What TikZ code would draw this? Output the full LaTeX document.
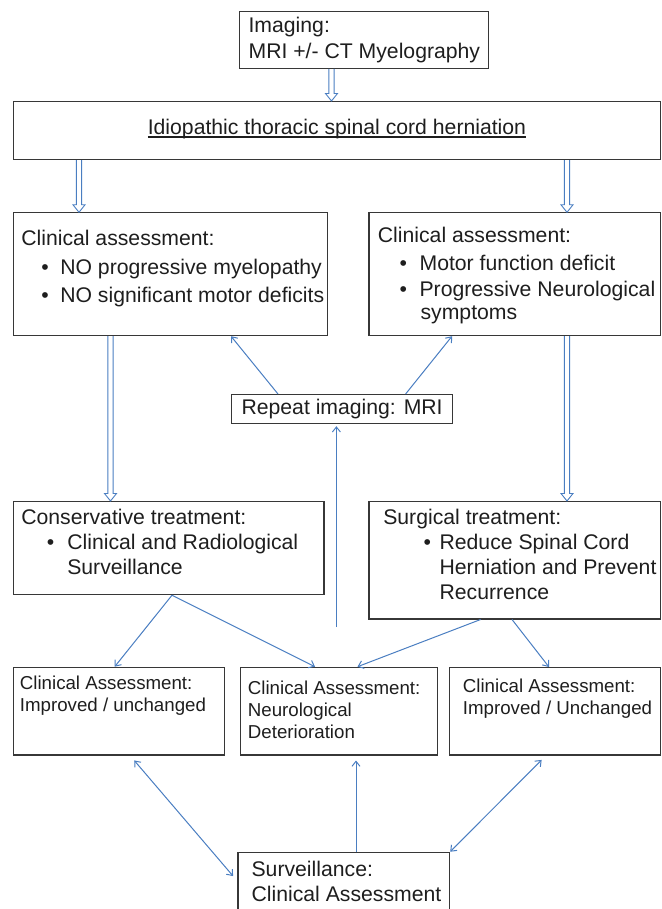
\documentclass[tikz,border=0pt]{standalone}
\usepackage{fontspec}
\setmainfont{Liberation Sans}
\usetikzlibrary{arrows.meta, calc}

\definecolor{arrblue}{RGB}{74,126,193}
\definecolor{boxline}{RGB}{55,55,55}
\definecolor{txt}{RGB}{30,30,30}

\newcommand{\boxtxt}[3]{\parbox[c][#2][t]{#1}{\offinterlineskip#3}}
\newcommand{\row}[3]{\vskip#1\hbox to\hsize{\kern#2\smash{#3}\hss}}
\newcommand{\itemrow}[4]{\row{#1}{#2}{\makebox[#3][l]{\textbullet}#4}}
\newcommand{\undl}[1]{\setbox0\hbox{#1}\rlap{\rule[-3pt]{\wd0}{1.1pt}}\box0}

\tikzset{
	flowbox/.style = {draw = boxline, line width = 1.2pt, anchor = north west, inner sep = 0pt, text = txt, font = \fontsize{21.2}{25}\selectfont},
	smalltxt/.style = {font = \fontsize{18.7}{22}\selectfont},
	thinarr/.style = {draw = arrblue, line width = 1pt, -{Straight Barb[length=5pt, width=8pt]}},
	botharr/.style = {draw = arrblue, line width = 1pt, {Straight Barb[length=5pt, width=8pt]}-{Straight Barb[length=5pt, width=8pt]}},
	dblarr/.style = {draw = arrblue, line width = 0.9pt, to path = {let \p1 = (\tikztostart), \p2 = (\tikztotarget) in
		(\x1-2.6pt,\y1) -- (\x1-2.6pt,\y2+7.5pt) -- (\x1-6pt,\y2+7.5pt) -- (\x1,\y2) -- (\x1+6pt,\y2+7.5pt) -- (\x1+2.6pt,\y2+7.5pt) -- (\x1+2.6pt,\y1)}}
}

\begin{document}
\begin{tikzpicture}[x = 1pt, y = -1pt]
	\useasboundingbox (0,0) rectangle (661,909);

	\node [flowbox] (img) at (239,10.7) {\boxtxt{249pt}{57pt}{\row{21.6pt}{9pt}{Imaging:}\row{26pt}{9pt}{MRI +/- CT Myelography}}};
	\node [flowbox, minimum width = 647.3pt, minimum height = 58pt, text height = 15pt, text depth = 7pt] (hern) at (12.7,101) {\undl{Idiopathic thoracic spinal cord herniation}};

	\node [flowbox] (clinL) at (12.7,212.3) {\boxtxt{314.3pt}{122.7pt}{\row{32.7pt}{8pt}{Clinical assessment:}\itemrow{29.3pt}{28pt}{19pt}{NO progressive myelopathy}\itemrow{28pt}{28pt}{19pt}{NO significant motor deficits}}};
	\node [flowbox] (clinR) at (368.3,212.3) {\boxtxt{291.7pt}{122.7pt}{\row{30pt}{9pt}{Clinical assessment:}\itemrow{28pt}{30.7pt}{20pt}{Motor function deficit}\itemrow{25.4pt}{30.7pt}{20pt}{Progressive Neurological}\row{23.3pt}{51.7pt}{symptoms}}};

	\node [flowbox, minimum width = 221pt, minimum height = 29pt, text height = 15.5pt, text depth = 4.5pt] (rep) at (231,394) {Repeat imaging: MRI};

	\node [flowbox] (cons) at (12.7,501) {\boxtxt{310.6pt}{93pt}{\row{23.3pt}{8pt}{Conservative treatment:}\itemrow{24.7pt}{33.6pt}{20.4pt}{Clinical and Radiological}\row{25.3pt}{54pt}{Surveillance}}};
	\node [flowbox] (surg) at (368.3,501) {\boxtxt{291.7pt}{117.3pt}{\row{23.3pt}{14.4pt}{Surgical treatment:}\itemrow{24.7pt}{54.7pt}{16pt}{Reduce Spinal Cord}\row{25pt}{70.7pt}{Herniation and Prevent}\row{25pt}{70.7pt}{Recurrence}}};

	\node [flowbox, smalltxt] (botL) at (12.7,666.7) {\boxtxt{211.3pt}{87.6pt}{\row{22.6pt}{6.6pt}{Clinical Assessment:}\row{21.4pt}{6.6pt}{Improved / unchanged}}};
	\node [flowbox, smalltxt] (botM) at (240,666.7) {\boxtxt{196.7pt}{87.6pt}{\row{27.3pt}{7.3pt}{Clinical Assessment:}\row{22pt}{7.3pt}{Neurological}\row{22.3pt}{7.3pt}{Deterioration}}};
	\node [flowbox, smalltxt] (botR) at (449,667) {\boxtxt{211pt}{87.3pt}{\row{25.3pt}{13.3pt}{Clinical Assessment:}\row{21.7pt}{13.3pt}{Improved / Unchanged}}};

	\node [flowbox] (surv) at (237.3,851.7) {\boxtxt{211.7pt}{80pt}{\row{24.3pt}{13.7pt}{Surveillance:}\row{24.7pt}{13.7pt}{Clinical Assessment}}};

	\coordinate (up) at (336.4,627);

	\draw [dblarr] (img.south -| 331.5,0) to (hern.north -| 331.5,0);
	\draw [dblarr] (hern.south -| 79,0) to (clinL.north -| 79,0);
	\draw [dblarr] (hern.south -| 567,0) to (clinR.north -| 567,0);
	\draw [dblarr] (clinL.south -| 110.5,0) to (cons.north -| 110.5,0);
	\draw [dblarr] (clinR.south -| 567,0) to (surg.north -| 567,0);

	\draw [thinarr] (rep.north -| 278,0) -- (clinL.south -| 231,0);
	\draw [thinarr] (rep.north -| 405.6,0) -- (clinR.south -| 452,0);
	\draw [thinarr, shorten >= 2pt] (up) -- (rep.south -| up);

	\draw [thinarr] (cons.south -| 172,0) -- (botL.north -| 114.7,0);
	\draw [thinarr] (cons.south -| 172,0) -- (botM.north -| 315,0);
	\draw [thinarr] (surg.south -| 480.6,0) -- (botM.north -| 357.5,0);
	\draw [thinarr] (surg.south -| 512,0) -- (botR.north -| 549,0);

	\draw [botharr, shorten <= 6.5pt, shorten >= 6.5pt] (botL.south -| 130,0) -- (surv.west |- 0,881);
	\draw [thinarr, shorten >= 5pt] (surv.north -| 356,0) -- (botM.south -| 356,0);
	\draw [botharr, shorten <= 6.2pt] (botR.south -| 546,0) -- (surv.north east);
\end{tikzpicture}
\end{document}
